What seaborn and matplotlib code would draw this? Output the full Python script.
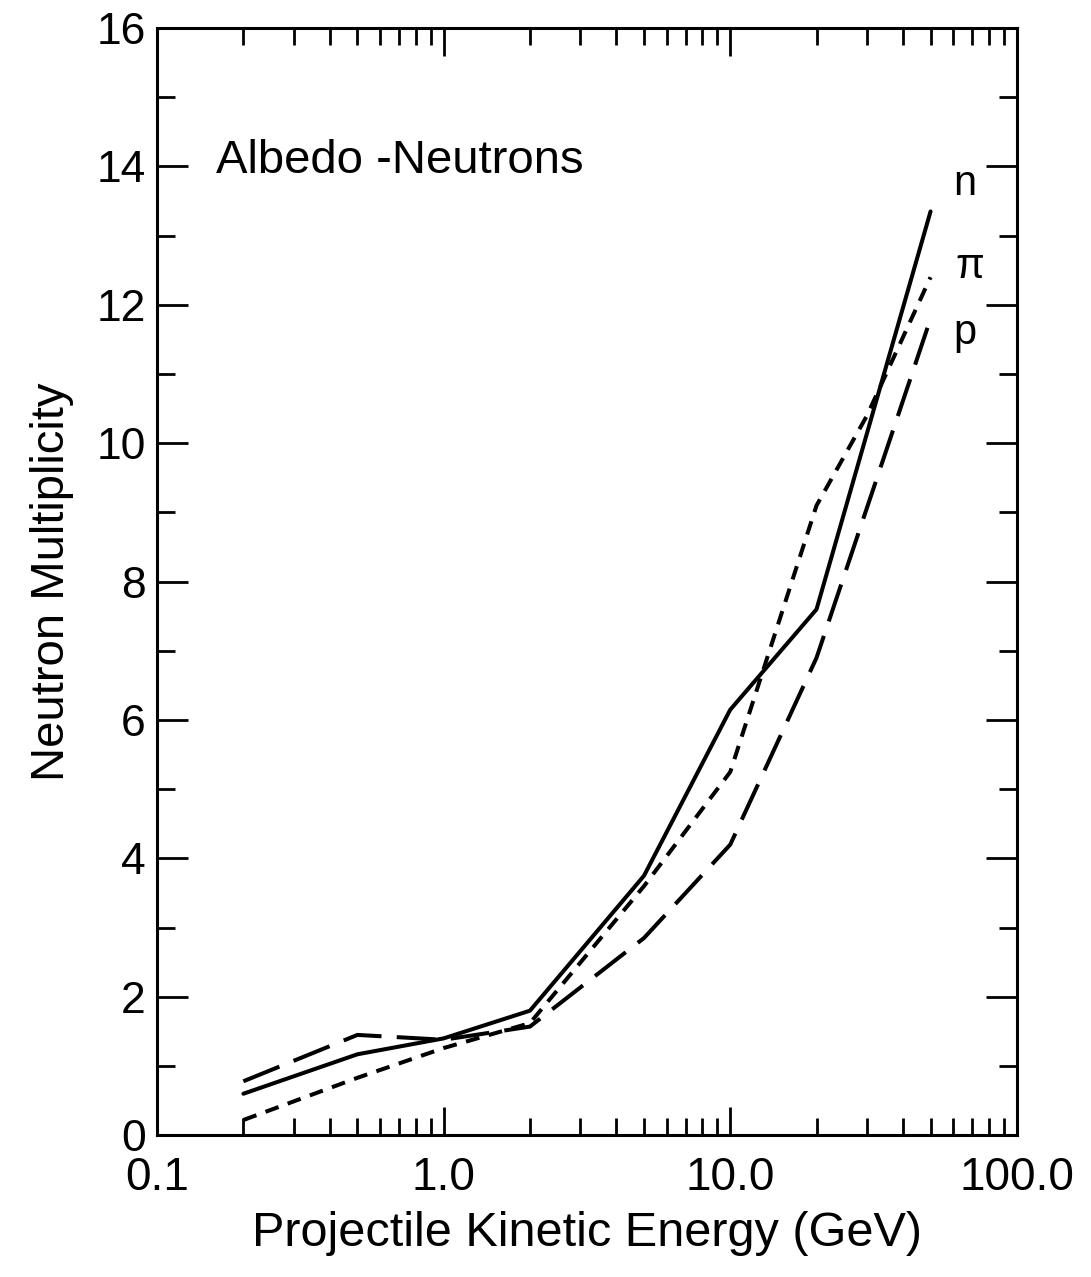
import pandas as pd
import matplotlib.pyplot as plt
import matplotlib.ticker as mticker
import seaborn as sns
import numpy as np

# ============================================================================
# DATA
# ============================================================================

energy_n = [0.2, 0.5, 1.0, 2.0, 5.0, 10.0, 20.0, 50.0]
mult_n = [0.60, 1.17, 1.40, 1.80, 3.75, 6.15, 7.60, 13.35]

energy_pi = [0.2, 0.5, 1.0, 2.0, 5.0, 10.0, 20.0, 30.0, 50.0]
mult_pi = [0.22, 0.83, 1.26, 1.62, 3.60, 5.25, 9.10, 10.40, 12.40]

energy_p = [0.2, 0.5, 1.0, 2.0, 5.0, 10.0, 20.0, 50.0]
mult_p = [0.78, 1.45, 1.38, 1.57, 2.85, 4.20, 6.90, 11.80]

particle_names = ["n", "\u03c0", "p"]
y_ticks = [0, 2, 4, 6, 8, 10, 12, 14, 16]
x_ticks = [0.1, 1.0, 10.0, 100.0]
x_ticklabels = ["0.1", "1.0", "10.0", "100.0"]

df = pd.concat([
    pd.DataFrame({"energy": energy_n, "mult": mult_n, "particle": "n"}),
    pd.DataFrame({"energy": energy_pi, "mult": mult_pi, "particle": "\u03c0"}),
    pd.DataFrame({"energy": energy_p, "mult": mult_p, "particle": "p"}),
], ignore_index=True)

# ============================================================================
# PLOT
# ============================================================================

sns.set_style("ticks")
plt.rcParams['font.family'] = ['Liberation Sans', 'DejaVu Sans']
plt.rcParams['lines.scale_dashes'] = False
plt.rcParams['text.color'] = 'black'
plt.rcParams['axes.labelcolor'] = 'black'
plt.rcParams['xtick.color'] = 'black'
plt.rcParams['ytick.color'] = 'black'

fig = plt.figure(figsize=(10.91, 12.77), dpi=100)
ax = fig.add_axes([0.144, 0.111, 0.788, 0.867])

dash_styles = {"n": "", "\u03c0": (10, 7), "p": (28, 11)}
sns.lineplot(data=df, x="energy", y="mult", style="particle",
             dashes=dash_styles, color="black", lw=2.9,
             sort=False, estimator=None, legend=False, ax=ax)

ax.set_xscale("log")
ax.set_xlim(0.1, 100)
ax.set_ylim(0, 16)

ax.set_xticks(x_ticks)
ax.set_xticklabels(x_ticklabels)
ax.xaxis.set_minor_locator(mticker.LogLocator(base=10, subs=np.arange(2, 10)))
ax.xaxis.set_minor_formatter(mticker.NullFormatter())
ax.set_yticks(y_ticks)
ax.yaxis.set_minor_locator(mticker.MultipleLocator(1))

ax.tick_params(which="both", direction="in", top=True, right=True,
               width=2, colors="black")
ax.tick_params(axis="y", which="major", length=22, labelsize=32, pad=8)
ax.tick_params(axis="y", which="minor", length=13)
ax.tick_params(axis="x", which="major", length=20, labelsize=33, pad=15)
ax.tick_params(axis="x", which="minor", length=12)
for spine in ax.spines.values():
    spine.set_linewidth(2.2)
    spine.set_color("black")

ax.set_xlabel("Projectile Kinetic Energy (GeV)", fontsize=35, labelpad=8)
ax.set_ylabel("Neutron Multiplicity", fontsize=34, labelpad=16)

ax.text(0.068, 0.88, "Albedo -Neutrons", transform=ax.transAxes,
        fontsize=34, ha="left", va="center")

# curve labels at the upper ends
label_pos = {"n": (60, 13.75), "\u03c0": (61, 12.55), "p": (60, 11.6)}
for name in particle_names:
    x, y = label_pos[name]
    ax.text(x, y, name, fontsize=30, ha="left", va="center")

plt.savefig("out.png", dpi=100)
plt.close()
